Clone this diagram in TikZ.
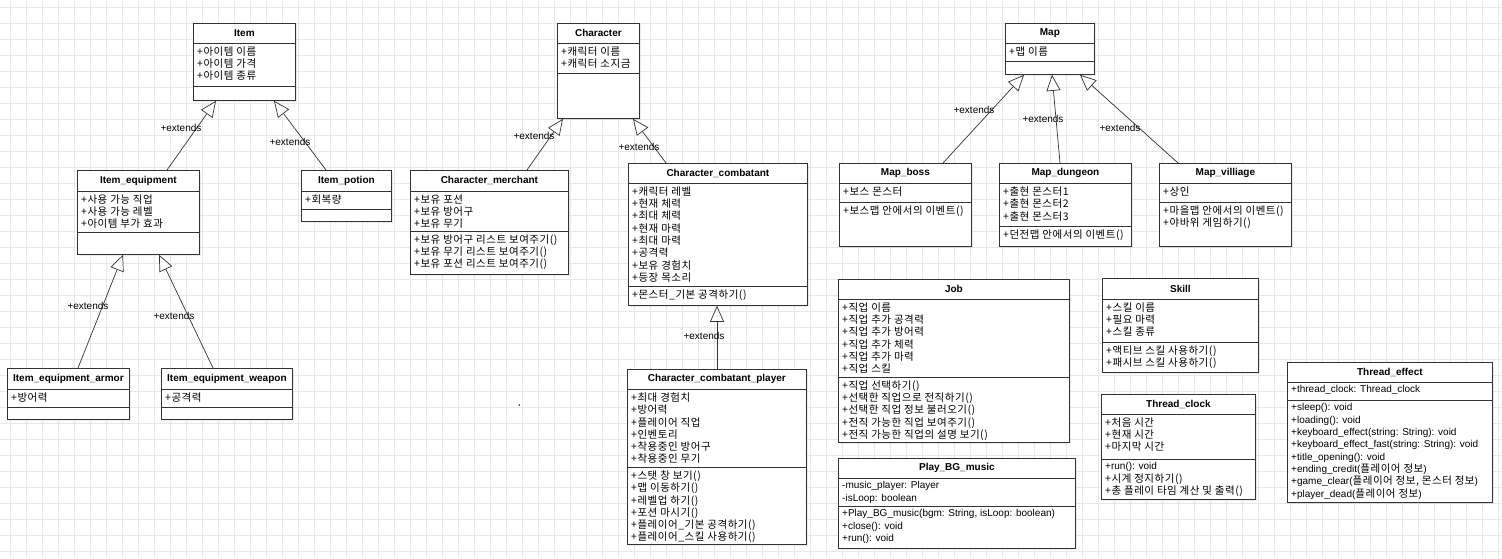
\documentclass[tikz,border=0pt]{standalone}
\usepackage{fontspec}
\setmainfont{Liberation Sans}
\newfontfamily\kr[Scale=1.05,LetterSpace=5]{Noto Sans CJK KR}
\usetikzlibrary{arrows.meta,shadows}

\newcommand{\ko}[1]{{\kr #1}}

% one class box: name, top left, width, height, header line, member line, title, attributes, operations
\newcommand{\umlclass}[9]{%
  \node[classbox, minimum width=#3pt, minimum height=#4pt] (#1) at (#2) {};
  \draw[classline] ([yshift=-#5pt]#1.north west) -- ([yshift=-#5pt]#1.north east);
  \draw[classline] ([yshift=-#6pt]#1.north west) -- ([yshift=-#6pt]#1.north east);
  \node[classname] (#1-name) at ([yshift=-#5pt/2]#1.north) {#7};
  \node[members] (#1-attr) at ([xshift=4pt,yshift=-#5pt-3.5pt]#1.north west) {#8};
  \node[members] (#1-op) at ([xshift=4pt,yshift=-#6pt-3.5pt]#1.north west) {#9};
}

\begin{document}
\begin{tikzpicture}[x=1pt,y=-1pt,
    classbox/.style={draw=black!80, fill=white, line width=0.8pt, anchor=north west,
      inner sep=0pt, drop shadow={opacity=0.15, shadow xshift=2pt, shadow yshift=-2pt}},
    classline/.style={draw=black!80, line width=0.8pt},
    classname/.style={inner sep=0pt, font=\fontsize{10}{12}\selectfont\bfseries},
    members/.style={anchor=north west, inner sep=0pt, align=left, font=\fontsize{10}{12.3}\selectfont},
    extends/.style={draw=black!80, line width=0.7pt, -{Triangle[length=16pt,width=14pt,fill=white]}},
    extlabel/.style={inner sep=0pt, font=\fontsize{10}{12}\selectfont},
    gridline/.style={draw=black!9, line width=0.6pt}]

  \useasboundingbox (0,0) rectangle (1502,558);
  \fill[white] (0,0) rectangle (1502,558);
  \begin{scope}[shift={(10.3,7.7)}]
    \draw[gridline, step=16pt] (-10.3,550.3) grid (1491.7,-7.7);
  \end{scope}
  \fill[blue!60!black] (519.3,405) circle (0.8pt);

  % items
  \umlclass{item}{193,23}{102}{77}{20}{63}{Item}
    {\ko{+아이템 이름}\\\ko{+아이템 가격}\\\ko{+아이템 종류}}{}
  \umlclass{itemeq}{77,170}{122}{84}{21}{62}{Item\_equipment}
    {\ko{+사용 가능 직업}\\\ko{+사용 가능 레벨}\\\ko{+아이템 부가 효과}}{}
  \umlclass{potion}{301,170}{90}{51}{21}{39}{Item\_potion}{\ko{+회복량}}{}
  \umlclass{armor}{7,368}{122}{51}{21}{39}{Item\_equipment\_armor}{\ko{+방어력}}{}
  \umlclass{weapon}{161,368}{131}{51}{21}{39}{Item\_equipment\_weapon}{\ko{+공격력}}{}

  % characters
  \umlclass{chara}{557,23}{82}{95}{20}{50}{Character}
    {\ko{+캐릭터 이름}\\\ko{+캐릭터 소지금}}{}
  \umlclass{merchant}{410,170}{158}{104}{21}{61}{Character\_merchant}
    {\ko{+보유 포션}\\\ko{+보유 방어구}\\\ko{+보유 무기}}
    {\ko{+보유 방어구 리스트 보여주기()}\\\ko{+보유 무기 리스트 보여주기()}\\\ko{+보유 포션 리스트 보여주기()}}
  \umlclass{combat}{628,163}{179}{142}{20}{123}{Character\_combatant}
    {\ko{+캐릭터 레벨}\\\ko{+현재 체력}\\\ko{+최대 체력}\\\ko{+현재 마력}\\\ko{+최대 마력}\\\ko{+공격력}\\\ko{+보유 경험치}\\\ko{+등장 목소리}}
    {\ko{+몬스터\_기본 공격하기()}}
  \umlclass{player}{627,369}{179}{175}{20}{98}{Character\_combatant\_player}
    {\ko{+최대 경험치}\\\ko{+방어력}\\\ko{+플레이어 직업}\\\ko{+인벤토리}\\\ko{+착용중인 방어구}\\\ko{+착용중인 무기}}
    {\ko{+스탯 창 보기()}\\\ko{+맵 이동하기()}\\\ko{+레벨업 하기()}\\\ko{+포션 마시기()}\\\ko{+플레이어\_기본 공격하기()}\\\ko{+플레이어\_스킬 사용하기()}}

  % maps
  \umlclass{map}{1005,23}{89}{51}{20}{38}{Map}{\ko{+맵 이름}}{}
  \umlclass{boss}{839,163}{132}{83}{20}{39}{Map\_boss}
    {\ko{+보스 몬스터}}{\ko{+보스맵 안에서의 이벤트()}}
  \umlclass{dungeon}{999,163}{132}{83}{20}{63}{Map\_dungeon}
    {\ko{+출현 몬스터1}\\\ko{+출현 몬스터2}\\\ko{+출현 몬스터3}}{\ko{+던전맵 안에서의 이벤트()}}
  \umlclass{village}{1159,163}{132}{83}{20}{39}{Map\_villiage}
    {\ko{+상인}}{\ko{+마을맵 안에서의 이벤트()}\\\ko{+야바위 게임하기()}}

  % others
  \umlclass{job}{838,279}{231}{163}{20}{98}{Job}
    {\ko{+직업 이름}\\\ko{+직업 추가 공격력}\\\ko{+직업 추가 방어력}\\\ko{+직업 추가 체력}\\\ko{+직업 추가 마력}\\\ko{+직업 스킬}}
    {\ko{+직업 선택하기()}\\\ko{+선택한 직업으로 전직하기()}\\\ko{+선택한 직업 정보 불러오기()}\\\ko{+전직 가능한 직업 보여주기()}\\\ko{+전직 가능한 직업의 설명 보기()}}
  \umlclass{music}{838,458}{237}{90}{20}{48}{Play\_BG\_music}
    {-music\_player: Player\\-isLoop: boolean}
    {+Play\_BG\_music(bgm: String, isLoop: boolean)\\+close(): void\\+run(): void}
  \umlclass{skill}{1102,278}{156}{94}{21}{64}{Skill}
    {\ko{+스킬 이름}\\\ko{+필요 마력}\\\ko{+스킬 종류}}
    {\ko{+액티브 스킬 사용하기()}\\\ko{+패시브 스킬 사용하기()}}
  \umlclass{clock}{1101,394}{154}{105}{20}{65}{Thread\_clock}
    {\ko{+처음 시간}\\\ko{+현재 시간}\\\ko{+마지막 시간}}
    {+run(): void\\\ko{+시계 정지하기()}\\\ko{+총 플레이 타임 계산 및 출력()}}
  \umlclass{effect}{1287,362}{205}{140}{20}{38}{Thread\_effect}
    {+thread\_clock: Thread\_clock}
    {+sleep(): void\\+loading(): void\\+keyboard\_effect(string: String): void\\+keyboard\_effect\_fast(string: String): void\\+title\_opening(): void\\+ending\_credit(\ko{플레이어 정보})\\+game\_clear(\ko{플레이어 정보, 몬스터 정보})\\+player\_dead(\ko{플레이어 정보})}

  % inheritance
  \draw[extends] ([xshift=90pt]itemeq.north west) -- ([xshift=23pt]item.south west);
  \draw[extends] ([xshift=25pt]potion.north west) -- ([xshift=81pt]item.south west);
  \draw[extends] ([xshift=71pt]armor.north west) -- ([xshift=46pt]itemeq.south west);
  \draw[extends] ([xshift=52pt]weapon.north west) -- ([xshift=82pt]itemeq.south west);
  \draw[extends] ([xshift=117pt]merchant.north west) -- ([xshift=6pt]chara.south west);
  \draw[extends] ([xshift=38pt]combat.north west) -- ([xshift=76pt]chara.south west);
  \draw[extends] ([xshift=90pt]player.north west) -- ([xshift=89pt]combat.south west);
  \draw[extends] ([xshift=104pt]boss.north west) -- ([xshift=19pt]map.south west);
  \draw[extends] ([xshift=61pt]dungeon.north west) -- ([xshift=47pt]map.south west);
  \draw[extends] ([xshift=19pt]village.north west) -- ([xshift=75pt]map.south west);

  \node[extlabel] (ext-itemeq) at (181,128) {+extends};
  \node[extlabel] (ext-potion) at (290,142) {+extends};
  \node[extlabel] (ext-armor) at (88,306) {+extends};
  \node[extlabel] (ext-weapon) at (174,316) {+extends};
  \node[extlabel] (ext-merchant) at (534,136) {+extends};
  \node[extlabel] (ext-combat) at (639,147) {+extends};
  \node[extlabel] (ext-player) at (704,336) {+extends};
  \node[extlabel] (ext-boss) at (974,110) {+extends};
  \node[extlabel] (ext-dungeon) at (1043,119) {+extends};
  \node[extlabel] (ext-village) at (1120,128) {+extends};

\end{tikzpicture}
\end{document}
